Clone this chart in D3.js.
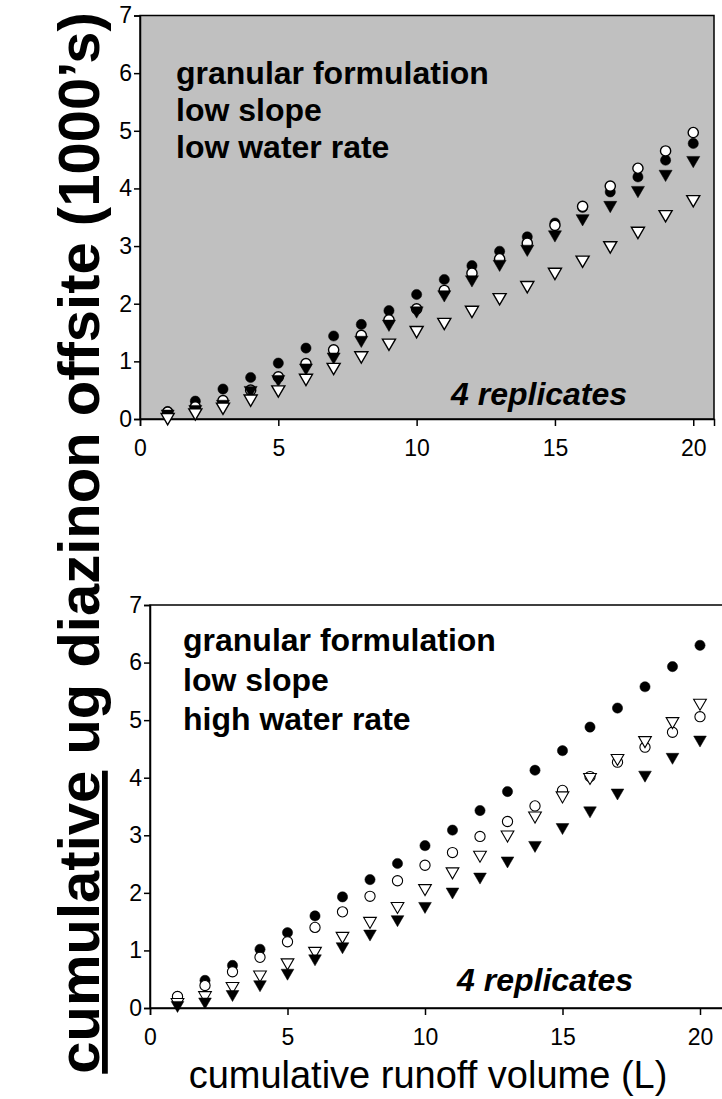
<!DOCTYPE html>
<html><head><meta charset="utf-8">
<script src="https://cdn.jsdelivr.net/npm/d3@7"></script>
<style>html,body{margin:0;padding:0;background:#fff;}svg{display:block;}</style>
</head><body>
<svg id="chart" width="722" height="1099"></svg>
<script>
// runoff volume (L)
const volumes = [1,2,3,4,5,6,7,8,9,10,11,12,13,14,15,16,17,18,19,20];
const xTicks = [0,5,10,15,20];
const yTicks = [0,1,2,3,4,5,6,7];

// top panel: granular, low slope, low water rate
const topFilledCircle = [0.13,0.31,0.52,0.72,0.97,1.23,1.44,1.64,1.88,2.16,2.42,2.66,2.91,3.16,3.40,3.67,3.94,4.20,4.49,4.78];
const topOpenCircle   = [0.12,0.21,0.32,0.50,0.73,0.96,1.20,1.45,1.72,1.91,2.23,2.53,2.78,3.05,3.36,3.69,4.04,4.35,4.65,4.97];
const topFilledTri    = [0.09,0.17,0.26,0.50,0.69,0.89,1.08,1.37,1.65,1.88,2.16,2.42,2.69,2.95,3.20,3.48,3.71,3.97,4.25,4.49];
const topOpenTri      = [0.03,0.11,0.21,0.35,0.51,0.71,0.90,1.10,1.32,1.54,1.68,1.89,2.11,2.32,2.55,2.76,3.01,3.26,3.55,3.81];

// bottom panel: granular, low slope, high water rate
const botFilledCircle = [0.20,0.48,0.74,1.02,1.31,1.60,1.93,2.23,2.51,2.82,3.09,3.43,3.76,4.13,4.47,4.88,5.21,5.58,5.93,6.30];
const botOpenCircle   = [0.20,0.39,0.63,0.88,1.15,1.40,1.67,1.94,2.21,2.48,2.70,2.98,3.24,3.51,3.78,4.02,4.27,4.53,4.79,5.06];
const botOpenTri      = [0.10,0.22,0.38,0.58,0.79,0.99,1.25,1.51,1.77,2.08,2.37,2.66,3.01,3.34,3.69,4.01,4.34,4.65,4.98,5.30];
const botFilledTri    = [0.05,0.11,0.24,0.41,0.61,0.86,1.07,1.29,1.54,1.77,2.02,2.28,2.56,2.83,3.14,3.43,3.74,4.05,4.36,4.66];

const topNotes = ["granular formulation","low slope","low water rate"];
const botNotes = ["granular formulation","low slope","high water rate"];
const repNote = "4 replicates";
const yLabelU = "cumulative";
const yLabelRest = " ug diazinon offsite (1000\u2019s)";
const xLabel = "cumulative runoff volume (L)";

const FONT = "'Liberation Sans', Arial, Helvetica, sans-serif";
const svg = d3.select("#chart");

function panel(cfg){
  const g = svg.append("g");
  const x = d3.scaleLinear().domain([0,cfg.xMax]).range([cfg.left, cfg.right]);
  const y = d3.scaleLinear().domain([0,7]).range([cfg.bottom, cfg.top]);
  // background
  g.append("rect").attr("x",cfg.left).attr("y",cfg.top)
    .attr("width",cfg.right-cfg.left).attr("height",cfg.bottom-cfg.top)
    .attr("fill",cfg.bg).attr("stroke","#000").attr("stroke-width",1.5);
  // axes
  const xa = g.append("g").attr("transform",`translate(0,${cfg.bottom})`)
    .call(d3.axisBottom(x).tickValues(xTicks).tickSize(7).tickPadding(cfg.xPad).tickFormat(d3.format("d")));
  const ya = g.append("g").attr("transform",`translate(${cfg.left},0)`)
    .call(d3.axisLeft(y).tickValues(yTicks).tickSize(6).tickPadding(2).tickFormat(d3.format("d")));
  [xa,ya].forEach(a=>{
    a.select(".domain").attr("stroke","#000").attr("stroke-width",1.5);
    a.selectAll(".tick line").attr("stroke","#000").attr("stroke-width",1.5);
    a.selectAll(".tick text").attr("font-family",FONT).attr("font-size",23).attr("fill","#000");
  });
  // markers
  const circ = d3.symbol().type(d3.symbolCircle).size(cfg.cSize);
  const tri = d3.symbol().type(d3.symbolTriangle).size(cfg.tSize);
  cfg.series.forEach(s=>{
    g.append("g").selectAll("path").data(s.values).join("path")
      .attr("d", s.shape==="circle"?circ:tri)
      .attr("transform",(d,i)=>`translate(${x(volumes[i])},${y(d)})`+(s.shape==="tri"?" rotate(180)":""))
      .attr("fill", s.filled?"#000":"#fff")
      .attr("stroke","#000").attr("stroke-width", s.filled?0.5:cfg.sw);
  });
  // notes
  cfg.notes.forEach((t,i)=>{
    g.append("text").attr("x",cfg.noteX).attr("y",cfg.noteY+i*cfg.noteDy)
      .attr("font-family",FONT).attr("font-weight","bold").attr("font-size",32).text(t);
  });
  g.append("text").attr("x",cfg.repX).attr("y",cfg.repY)
    .attr("font-family",FONT).attr("font-weight","bold").attr("font-style","italic")
    .attr("font-size",32).text(repNote);
}

panel({left:140,right:714,xMax:20.75,top:15.5,bottom:419,bg:"#c0c0c0",cSize:82,tSize:74,sw:1.4,xPad:14,
  series:[{values:topFilledCircle,shape:"circle",filled:true},
          {values:topOpenCircle,shape:"circle",filled:false},
          {values:topFilledTri,shape:"tri",filled:true},
          {values:topOpenTri,shape:"tri",filled:false}],
  notes:topNotes,noteX:176,noteY:84,noteDy:37,repX:451,repY:405});

panel({left:150,right:727.5,xMax:21,top:605,bottom:1008,bg:"#fff",cSize:82,tSize:70,sw:1.1,xPad:14,
  series:[{values:botFilledCircle,shape:"circle",filled:true},
          {values:botOpenCircle,shape:"circle",filled:false},
          {values:botOpenTri,shape:"tri",filled:false},
          {values:botFilledTri,shape:"tri",filled:true}],
  notes:botNotes,noteX:183,noteY:651,noteDy:39.5,repX:457,repY:991});

// y label
const yl = svg.append("text")
  .attr("transform","translate(99,543) rotate(-90)")
  .attr("text-anchor","middle")
  .attr("font-family",FONT).attr("font-weight","bold").attr("font-size",58).attr("fill","#000");
yl.append("tspan").attr("text-decoration","underline").text(yLabelU);
yl.append("tspan").text(yLabelRest);

// x label
svg.append("text").attr("x",428).attr("y",1088).attr("text-anchor","middle")
  .attr("font-family",FONT).attr("font-size",38).attr("fill","#000").text(xLabel);
</script>
</body></html>
